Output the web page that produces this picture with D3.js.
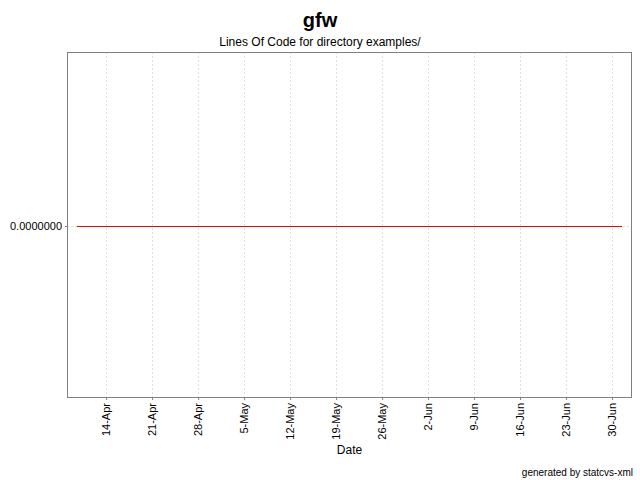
<!DOCTYPE html>
<html><head><meta charset="utf-8">
<script src="https://cdn.jsdelivr.net/npm/d3@7"></script>
<style>body{margin:0;background:#fff}svg{display:block}text{font-family:"Liberation Sans",Arial,sans-serif}</style>
</head><body><svg id="c" width="640" height="480"></svg>
<script>
const title = "gfw";
const subtitle = "Lines Of Code for directory examples/";
const xLabel = "Date";
const footer = "generated by statcvs-xml";
const dates = ["2003-04-09T14:00:00Z", "2003-07-01T12:00:00Z"];
const loc = [0, 0];
const tickDates = ["2003-04-14","2003-04-21","2003-04-28","2003-05-05","2003-05-12","2003-05-19","2003-05-26","2003-06-02","2003-06-09","2003-06-16","2003-06-23","2003-06-30"];
const tickLabels = ["14-Apr","21-Apr","28-Apr","5-May","12-May","19-May","26-May","2-Jun","9-Jun","16-Jun","23-Jun","30-Jun"];
const yTicks = [0];
const yTickLabels = ["0.0000000"];

const svg = d3.select("#c");
const L = 67, R = 632, T = 52, B = 400;
const d0 = new Date(dates[0]), d1 = new Date(dates[1]);
const pad = (d1 - d0) * 0.0185;
const x = d3.scaleUtc().domain([new Date(+d0 - pad), new Date(+d1 + pad)]).range([L, R]);
const y = d3.scaleLinear().domain([-1, 1]).range([B, T]);

svg.append("text").attr("x", 320).attr("y", 27).attr("text-anchor", "middle")
  .attr("font-size", 20).attr("font-weight", "bold").text(title);
svg.append("text").attr("x", 320).attr("y", 46).attr("text-anchor", "middle")
  .attr("font-size", 12).text(subtitle);

// grid
const tds = tickDates.map(d => new Date(d + "T00:00:00Z"));
svg.append("g").selectAll("line").data(tds).join("line")
  .attr("x1", d => Math.round(x(d)) + 0.5).attr("x2", d => Math.round(x(d)) + 0.5).attr("y1", T).attr("y2", B - 2)
  .attr("stroke", "#e0e0e0").attr("stroke-dasharray", "2,2");
svg.append("g").selectAll("line").data(yTicks).join("line")
  .attr("x1", L).attr("x2", R).attr("y1", d => Math.round(y(d)) + 0.5).attr("y2", d => Math.round(y(d)) + 0.5)
  .attr("stroke", "#e0e0e0").attr("stroke-dasharray", "2,2");

// x axis
const xa = svg.append("g").attr("transform", `translate(0,${B - 2})`)
  .call(d3.axisBottom(x).tickValues(tds).tickSize(2).tickFormat((d, i) => tickLabels[i]));
xa.select(".domain").remove();
xa.selectAll(".tick line").attr("stroke", "#808080");
xa.selectAll(".tick text").attr("font-size", 11).attr("fill", "#000")
  .attr("font-family", '"Liberation Sans",Arial,sans-serif')
  .attr("transform", "rotate(-90)").attr("text-anchor", "end")
  .attr("x", -5).attr("y", 0).attr("dy", "0.35em");

// y axis
const ya = svg.append("g").attr("transform", `translate(${L},0)`)
  .call(d3.axisLeft(y).tickValues(yTicks).tickSize(2).tickFormat((d, i) => yTickLabels[i]));
ya.select(".domain").remove();
ya.selectAll(".tick line").attr("stroke", "#808080");
ya.selectAll(".tick text").attr("font-size", 11).attr("fill", "#000")
  .attr("font-family", '"Liberation Sans",Arial,sans-serif').attr("x", -5);

// frame
svg.append("rect").attr("x", L + 0.5).attr("y", T + 0.5).attr("width", R - L - 1).attr("height", B - 2 - T - 1)
  .attr("fill", "none").attr("stroke", "#808080");

// line
const pts = dates.map((d, i) => [new Date(d), loc[i]]);
svg.append("path").datum(pts)
  .attr("d", d3.line().x(d => x(d[0])).y(d => Math.round(y(d[1])) + 0.5))
  .attr("fill", "none").attr("stroke", "rgb(255,0,0)").attr("stroke-width", 1.3)
  .attr("shape-rendering", "crispEdges");

svg.append("text").attr("x", (L + R) / 2).attr("y", 454).attr("text-anchor", "middle")
  .attr("font-size", 12).text(xLabel);
svg.append("text").attr("x", 633).attr("y", 476).attr("text-anchor", "end")
  .attr("font-size", 10).text(footer);
</script></body></html>
